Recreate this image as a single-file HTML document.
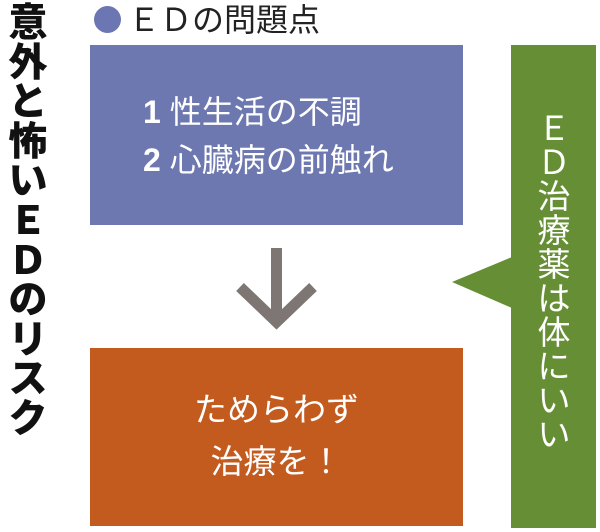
<!DOCTYPE html>
<html><head><meta charset="utf-8"><style>
body{margin:0;width:600px;height:532px;background:#fff;position:relative;overflow:hidden;font-family:"Liberation Sans","Noto Sans CJK JP",sans-serif}
.a{position:absolute}
.title{left:4px;top:4px;width:48px;font-size:39px;font-weight:900;line-height:39.6px;text-align:center;color:#111}
.green-t{top:112px;width:52px;font-size:33px;line-height:34px;text-align:center;color:#fff}
</style></head><body>
<div class="a title">意<br>外<br>と<br>怖<br>い<br>Ｅ<br>Ｄ<br>の<br>リ<br>ス<br>ク</div>
<div class="a" style="left:94px;top:6px;width:27px;height:27px;border-radius:50%;background:#6b76b2"></div>
<div class="a" style="left:128px;top:1px;font-size:32px;line-height:38px;color:#222">ＥＤの問題点</div>
<div class="a" style="left:90px;top:45px;width:373px;height:180px;background:#6d77b0"></div>
<div class="a" style="left:143px;top:88px;font-size:32px;line-height:48px;color:#fff"><b>1</b> 性生活の不調<br><b>2</b> 心臓病の前触れ</div>
<svg class="a" style="left:0;top:0" width="600" height="532">
<path d="M276.5 248V318M240 287L276.5 322L313 287" stroke="#7d7673" stroke-width="11" fill="none"/>
<polygon points="452,282 512,257 512,308" fill="#668f35"/>
</svg>
<div class="a" style="left:90px;top:348px;width:373px;height:178px;background:#c35b1e"></div>
<div class="a" style="left:90px;top:384px;width:373px;text-align:center;font-size:33px;line-height:52px;color:#fff">ためらわず<br>治療を！</div>
<div class="a" style="left:511px;top:45px;width:85px;height:483px;background:#668f35"></div>
<div class="a green-t" style="left:528px">Ｅ<br>Ｄ<br>治<br>療<br>薬<br>は<br>体<br>に<br>い<br>い</div>
</body></html>
